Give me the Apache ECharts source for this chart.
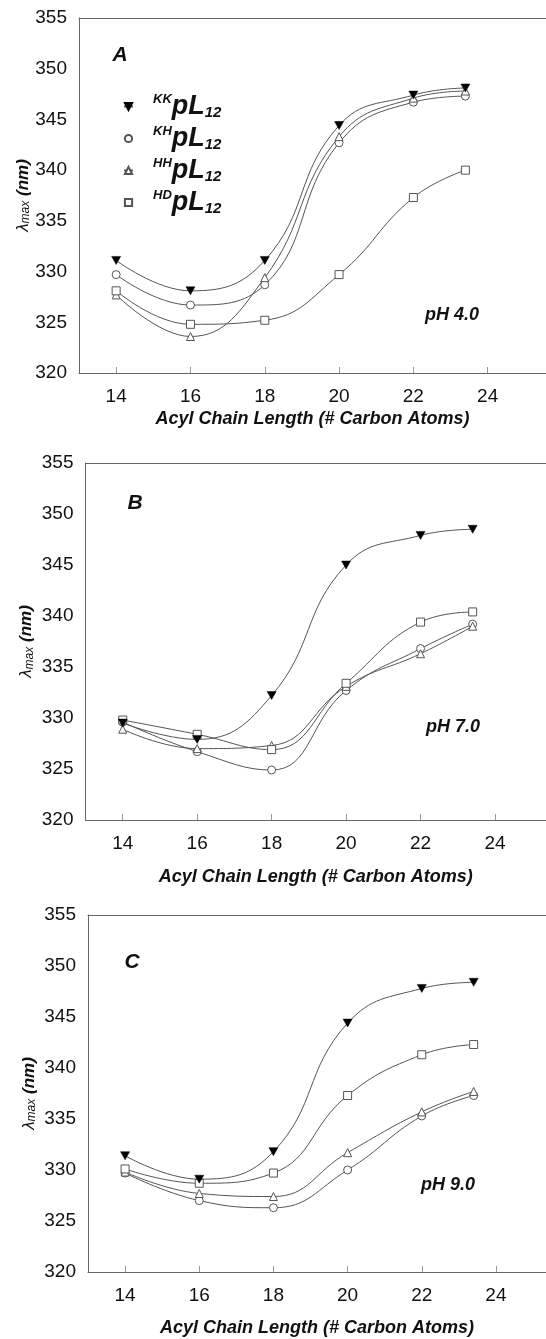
<!DOCTYPE html>
<html>
<head>
<meta charset="utf-8">
<script src="https://cdn.jsdelivr.net/npm/echarts@6/dist/echarts.min.js"></script>
<style>
html,body{margin:0;padding:0;background:#fff;}
#chart{width:546px;height:1339px;}
</style>
</head>
<body>
<div id="chart"></div>
<script>
// ---- data ----
const chainLength = [14, 16, 18, 20, 22, 23.4];
const seriesNames = ['KK', 'KH', 'HH', 'HD'];
const xTickValues = [14, 16, 18, 20, 22, 24];
const panelLetters = ['A', 'B', 'C'];
const panelPH = ['pH 4.0', 'pH 7.0', 'pH 9.0'];

// pH 4.0 (A)
const A_KK = [331.1, 328.1, 331.1, 344.4, 347.4, 348.1];
const A_KH = [329.7, 326.7, 328.7, 342.7, 346.7, 347.3];
const A_HH = [327.7, 323.6, 329.4, 343.3, 347.1, 347.8];
const A_HD = [328.1, 324.8, 325.2, 329.7, 337.3, 340.0];
// pH 7.0 (B)
const B_KK = [329.5, 327.9, 332.2, 345.0, 347.9, 348.5];
const B_KH = [329.6, 326.7, 324.9, 332.7, 336.8, 339.2];
const B_HH = [328.9, 327.0, 327.3, 333.1, 336.3, 339.0];
const B_HD = [329.8, 328.4, 326.9, 333.4, 339.4, 340.4];
// pH 9.0 (C)
const C_KK = [331.4, 329.1, 331.8, 344.4, 347.8, 348.4];
const C_KH = [329.7, 327.0, 326.3, 330.0, 335.3, 337.3];
const C_HH = [329.8, 327.7, 327.4, 331.7, 335.7, 337.7];
const C_HD = [330.1, 328.7, 329.7, 337.3, 341.3, 342.3];

const panelData = [
  [A_KK, A_KH, A_HH, A_HD],
  [B_KK, B_KH, B_HH, B_HD],
  [C_KK, C_KH, C_HH, C_HD]
];

// ---- layout ----
const grids = [
  {left: 79, top: 18, width: 467, height: 355},
  {left: 85.5, top: 463, width: 460.5, height: 357},
  {left: 88, top: 915, width: 458, height: 357}
];
const xMax = [25.57, 25.37, 25.35];
const xNameGap = [37, 48, 47];
const yNameGap = [47, 50, 50];
const FONT = 'Liberation Sans, Arial, sans-serif';
const lineCol = '#555';
const axisCol = '#666';

const symbols = {
  KK: 'path://M0,0 L10,0 L5,10 Z',
  KH: 'circle',
  HH: 'triangle',
  HD: 'rect'
};
const symbolStyles = {
  KK: {color: '#000', borderColor: '#000', borderWidth: 0.5},
  KH: {color: '#fff', borderColor: '#555', borderWidth: 1},
  HH: {color: '#fff', borderColor: '#555', borderWidth: 1},
  HD: {color: '#fff', borderColor: '#555', borderWidth: 1}
};
const symbolSizes = {KK: [9, 8], KH: 8, HH: 8, HD: 8};

const xAxes = [], yAxes = [], series = [];
grids.forEach((g, i) => {
  xAxes.push({
    type: 'value', gridIndex: i, min: 13, max: xMax[i], interval: 1, position: 'bottom',
    axisLine: {show: true, onZero: false, lineStyle: {color: axisCol, width: 1}},
    axisTick: {show: true, inside: true, length: 6, customValues: xTickValues, lineStyle: {color: '#999'}},
    axisLabel: {customValues: xTickValues, fontFamily: FONT, fontSize: 19, color: '#111', margin: 14},
    splitLine: {show: false},
    name: 'Acyl Chain Length (# Carbon Atoms)',
    nameLocation: 'middle', nameGap: xNameGap[i],
    nameTextStyle: {fontFamily: FONT, fontSize: 18, fontWeight: 'bold', fontStyle: 'italic', color: '#111'}
  });
  yAxes.push({
    type: 'value', gridIndex: i, min: 320, max: 355, interval: 5,
    axisLine: {show: true, lineStyle: {color: axisCol, width: 1}},
    axisTick: {show: false},
    axisLabel: {fontFamily: FONT, fontSize: 19, color: '#111', margin: 12},
    splitLine: {show: false},
    name: '{l|λ}{s|max}{n| (nm)}',
    nameLocation: 'middle', nameGap: yNameGap[i], nameRotate: 90,
    nameMoveOverlap: false,
    nameTextStyle: {
      rich: {
        l: {fontFamily: FONT, fontSize: 17, fontStyle: 'italic', color: '#111', verticalAlign: 'middle'},
        s: {fontFamily: FONT, fontSize: 12, fontStyle: 'italic', color: '#111', verticalAlign: 'bottom', padding: [6, 0, 0, 0]},
        n: {fontFamily: FONT, fontSize: 17, fontWeight: 'bold', fontStyle: 'italic', color: '#111', verticalAlign: 'middle'}
      }
    }
  });
  seriesNames.forEach((nm, k) => {
    series.push({
      name: nm, type: 'line', xAxisIndex: i, yAxisIndex: i,
      data: chainLength.map((x, j) => [x, panelData[i][k][j]]),
      smooth: 0.45,
      symbol: symbols[nm], symbolSize: symbolSizes[nm],
      showAllSymbol: true,
      lineStyle: {color: lineCol, width: 1},
      itemStyle: symbolStyles[nm],
      z: nm === 'KK' ? 5 : 3,
      animation: false
    });
  });
});
// top frame lines (one per panel)
grids.forEach((g, i) => {
  xAxes.push({
    type: 'value', gridIndex: i, min: 13, max: xMax[i], position: 'top',
    axisLine: {show: true, onZero: false, lineStyle: {color: axisCol, width: 1}},
    axisTick: {show: false}, axisLabel: {show: false}, splitLine: {show: false}
  });
});

const graphics = [];
const letterPos = [[120, 55], [135, 503], [132, 962]];
const phPos = [[452, 315], [453, 727], [448, 1185]];
panelLetters.forEach((t, i) => {
  graphics.push({type: 'text', x: letterPos[i][0], y: letterPos[i][1],
    style: {text: t, font: 'italic bold 21px ' + FONT, fill: '#111', textAlign: 'center', textVerticalAlign: 'middle'}});
  graphics.push({type: 'text', x: phPos[i][0], y: phPos[i][1],
    style: {text: panelPH[i], font: 'italic bold 18px ' + FONT, fill: '#111', textAlign: 'center', textVerticalAlign: 'middle'}});
});

const chart = echarts.init(document.getElementById('chart'), null, {renderer: 'canvas'});
chart.setOption({
  animation: false,
  backgroundColor: '#fff',
  grid: grids.map(g => Object.assign({show: false}, g)),
  xAxis: xAxes,
  yAxis: yAxes,
  legend: {
    show: true, orient: 'vertical', left: 118, top: 88,
    itemWidth: 9, itemHeight: 9, itemGap: 5,
    data: seriesNames,
    formatter: nm => '{sup|' + nm + '}{big|pL}{sub|12}',
    textStyle: {
      padding: [0, 0, 0, 15],
      rich: {
        sup: {fontFamily: FONT, fontSize: 13, fontWeight: 'bold', fontStyle: 'italic', color: '#111', verticalAlign: 'top', padding: [0, 0, 12, 0]},
        big: {fontFamily: FONT, fontSize: 27, fontWeight: 'bold', fontStyle: 'italic', color: '#111', verticalAlign: 'middle'},
        sub: {fontFamily: FONT, fontSize: 15, fontWeight: 'bold', fontStyle: 'italic', color: '#111', verticalAlign: 'bottom', padding: [12, 0, 0, 0]}
      }
    },
    selectedMode: false
  },
  graphic: graphics,
  series: series
});
</script>
</body>
</html>
